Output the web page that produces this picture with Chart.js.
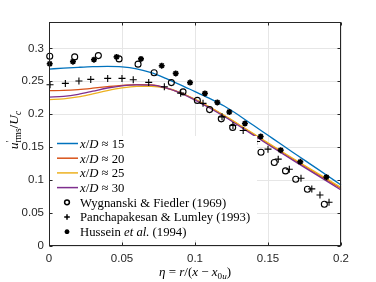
<!DOCTYPE html>
<html><head><meta charset="utf-8">
<script src="https://cdn.jsdelivr.net/npm/chart.js@4/dist/chart.umd.min.js"></script>
<style>html,body{margin:0;padding:0;background:#fff}</style>
</head><body>
<canvas id="c" width="376" height="282"></canvas>
<script>
// ---------- data ----------
const etaModel = [0,0.01,0.02,0.03,0.04,0.05,0.06,0.07,0.08,0.09,0.10,0.11,0.12,0.13,0.14,0.15,0.16,0.17,0.18,0.19,0.20];
const uRms15 = [0.2686,0.2700,0.2712,0.2722,0.2727,0.2720,0.2690,0.2632,0.2545,0.2447,0.2343,0.2240,0.2125,0.1985,0.1832,0.1680,0.1528,0.1378,0.1228,0.1078,0.0927];
const uRms20 = [0.2357,0.2362,0.2375,0.2395,0.2418,0.2438,0.2450,0.2447,0.2405,0.2327,0.2225,0.2107,0.1978,0.1840,0.1698,0.1556,0.1416,0.1278,0.1142,0.1007,0.0872];
const uRms25 = [0.2222,0.2233,0.2262,0.2310,0.2360,0.2400,0.2423,0.2425,0.2395,0.2325,0.2226,0.2110,0.1982,0.1845,0.1705,0.1565,0.1427,0.1290,0.1155,0.1022,0.0890];
const uRms30 = [0.2261,0.2272,0.2303,0.2350,0.2398,0.2432,0.2447,0.2443,0.2400,0.2320,0.2215,0.2095,0.1965,0.1825,0.1683,0.1540,0.1400,0.1262,0.1125,0.0988,0.0851];

const wygEta = [0.0005,0.0176,0.0338,0.048,0.061,0.072,0.0838,0.0918,0.1016,0.110,0.118,0.1258,0.137,0.1452,0.1543,0.162,0.169,0.177,0.1886];
const wygU   = [0.288,0.287,0.289,0.284,0.276,0.263,0.248,0.234,0.221,0.207,0.193,0.180,0.160,0.1424,0.1267,0.114,0.1014,0.0862,0.0634];

const panEta = [0.0007,0.0112,0.0205,0.0286,0.0402,0.050,0.0577,0.0683,0.079,0.0902,0.1055,0.1185,0.126,0.133,0.1422,0.150,0.157,0.1646,0.1726,0.180,0.1856,0.1918];
const panU   = [0.2448,0.2468,0.2504,0.2529,0.2544,0.2544,0.2524,0.2483,0.2418,0.232,0.2165,0.196,0.183,0.1753,0.1586,0.147,0.1318,0.1166,0.1029,0.0867,0.0775,0.0664];

const husEta = [0.0005,0.0164,0.0308,0.0463,0.063,0.0772,0.0868,0.0966,0.1068,0.1153,0.1235,0.1342,0.145,0.1587,0.1721,0.190];
const husU   = [0.2767,0.2798,0.2828,0.287,0.284,0.2737,0.262,0.248,0.2316,0.218,0.2033,0.186,0.1662,0.1455,0.1277,0.1045];

const xTicks = [0,0.05,0.1,0.15,0.2];
const xTickLabels = ['0','0.05','0.1','0.15','0.2'];
const yTicks = [0,0.05,0.1,0.15,0.2,0.25,0.3];
const yTickLabels = ['0','0.05','0.1','0.15','0.2','0.25','0.3'];

const seriesNames = ['x/D ≈ 15','x/D ≈ 20','x/D ≈ 25','x/D ≈ 30','Wygnanski & Fiedler (1969)','Panchapakesan & Lumley (1993)','Hussein et al. (1994)'];

// ---------- styling ----------
const C_BLUE='#0072BD', C_RED='#D95319', C_YEL='#EDB120', C_PUR='#7E2F8E';
const SERIF='"Liberation Serif","Times New Roman",serif';
const SANS='"Liberation Sans",Arial,sans-serif';
const AX='#262626';

const zip=(xs,ys)=>xs.map((x,i)=>({x:x,y:ys[i]}));

const lineDs=(label,ys,color,order)=>({label,data:zip(etaModel,ys),showLine:true,borderColor:color,backgroundColor:color,
  borderWidth:1.3,pointRadius:0,cubicInterpolationMode:'monotone',order,clip:false});
const markDs=(label,xs,ys,style,r,bw,order)=>({label,data:zip(xs,ys),showLine:false,pointStyle:style,pointRadius:r,
  pointBorderWidth:bw,borderColor:'#000',backgroundColor:'rgba(0,0,0,0)',order,clip:false});

// rich text helpers
function drawRich(ctx,segs,x,y,size,measureOnly){
  let cx=x;
  for(const s of segs){
    const fs=(s.sub||s.sup)?size*0.7:size;
    ctx.font=(s.it?'italic ':'')+fs.toFixed(2)+'px '+SERIF;
    const dy=s.sub?size*0.22:(s.sup?-size*0.38:0);
    if(!measureOnly) ctx.fillText(s.t,cx,y+dy);
    if(!s.stay) cx+=ctx.measureText(s.t).width;
  }
  return cx-x;
}
const legendSegs=[
  [{t:'x',it:1},{t:'/'},{t:'D',it:1},{t:' ≈ 15'}],
  [{t:'x',it:1},{t:'/'},{t:'D',it:1},{t:' ≈ 20'}],
  [{t:'x',it:1},{t:'/'},{t:'D',it:1},{t:' ≈ 25'}],
  [{t:'x',it:1},{t:'/'},{t:'D',it:1},{t:' ≈ 30'}],
  [{t:'Wygnanski & Fiedler (1969)'}],
  [{t:'Panchapakesan & Lumley (1993)'}],
  [{t:'Hussein '},{t:'et al.',it:1},{t:' (1994)'}]
];
const xTitle=[{t:'η',it:1},{t:' = '},{t:'r',it:1},{t:'/('},{t:'x',it:1},{t:' − '},{t:'x',it:1},{t:'0',sub:1},{t:'u',it:1,sub:1},{t:')'}];
const yTitle=[{t:'u',it:1},{t:'′',sup:1,stay:1},{t:'rms',sub:1},{t:'/'},{t:'U',it:1},{t:'c',it:1,sub:1}];

const decor={
  id:'decor',
  afterDatasetsDraw(chart){
    const ctx=chart.ctx, ca=chart.chartArea, xs=chart.scales.x, ys=chart.scales.y;
    ctx.save();
    ctx.strokeStyle=AX; ctx.lineWidth=1;
    const L=Math.round(ca.left)+0.5, R=Math.round(ca.right)-0.5, T=Math.round(ca.top)+0.5, B=Math.round(ca.bottom)-0.5;
    ctx.strokeRect(L,T,R-L,B-T);
    ctx.beginPath();
    const tl=3;
    for(const v of xTicks){const p=Math.round(xs.getPixelForValue(v))+0.5; ctx.moveTo(p,B);ctx.lineTo(p,B-tl);ctx.moveTo(p,T);ctx.lineTo(p,T+tl);}
    for(const v of yTicks){const p=Math.round(ys.getPixelForValue(v))+0.5; ctx.moveTo(L,p);ctx.lineTo(L+tl,p);ctx.moveTo(R,p);ctx.lineTo(R-tl,p);}
    ctx.stroke();

    // legend
    const lx=53, ly=136, lw=204, lh=104;
    ctx.fillStyle='#fff'; ctx.fillRect(lx,ly,lw,lh);
    const y0=143.5, dy=14.7;
    const dsets=chart.data.datasets;
    const legOrder=[0,1,2,3,4,5,6];
    legOrder.forEach((di,i)=>{
      const d=dsets[di]; const yy=y0+i*dy;
      if(d.showLine){
        ctx.strokeStyle=d.borderColor; ctx.lineWidth=1.5;
        ctx.beginPath(); ctx.moveTo(57,yy); ctx.lineTo(78,yy); ctx.stroke();
      } else {
        ctx.strokeStyle='#000'; ctx.fillStyle='rgba(0,0,0,0)';
        Chart.helpers.drawPoint(ctx,{pointStyle:d.pointStyle,radius:d.pointRadius*0.8,borderWidth:d.pointBorderWidth,rotation:0},67,yy);
      }
      ctx.fillStyle='#000';
      ctx.textBaseline='alphabetic'; ctx.textAlign='left';
      drawRich(ctx,legendSegs[di],80,yy+4.3,12.7);
    });

    // axis titles
    ctx.fillStyle='#000'; ctx.textAlign='left'; ctx.textBaseline='alphabetic';
    const w=drawRich(ctx,xTitle,0,0,13,true);
    drawRich(ctx,xTitle,(ca.left+ca.right)/2-w/2,276,13);
    ctx.save();
    ctx.translate(18,130); ctx.rotate(-Math.PI/2);
    const wy=drawRich(ctx,yTitle,0,0,13.5,true);
    drawRich(ctx,yTitle,-wy/2,0,13.5);
    ctx.restore();
    ctx.restore();
  }
};

new Chart(document.getElementById('c'),{
  type:'scatter',
  data:{datasets:[
    lineDs(seriesNames[0],uRms15,C_BLUE,7),
    lineDs(seriesNames[1],uRms20,C_RED,6),
    lineDs(seriesNames[2],uRms25,C_YEL,5),
    lineDs(seriesNames[3],uRms30,C_PUR,4),
    markDs(seriesNames[4],wygEta,wygU,'circle',3,1.1,3),
    markDs(seriesNames[5],panEta,panU,'cross',3.5,1.1,2),
    markDs(seriesNames[6],husEta,husU,'star',3,1.6,1)
  ]},
  options:{
    responsive:false,animation:false,events:[],
    layout:{padding:{left:0,right:35,top:22,bottom:0}},
    plugins:{legend:{display:false},tooltip:{enabled:false}},
    scales:{
      x:{type:'linear',min:0,max:0.2,
        afterBuildTicks:a=>{a.ticks=xTicks.map(v=>({value:v}));},
        afterFit:s=>{s.height=36;},
        grid:{color:'#e6e6e6',drawTicks:false},border:{display:false},
        ticks:{padding:6,color:AX,font:{family:SANS,size:11.5},callback:v=>xTickLabels[xTicks.indexOf(v)]}},
      y:{type:'linear',min:0,max:0.34,
        afterBuildTicks:a=>{a.ticks=yTicks.map(v=>({value:v}));},
        afterFit:s=>{s.width=49;},
        grid:{color:'#e6e6e6',drawTicks:false},border:{display:false},
        ticks:{padding:5,color:AX,font:{family:SANS,size:11.5},callback:v=>yTickLabels[yTicks.indexOf(v)]}}
    }
  },
  plugins:[decor]
});
</script>
</body></html>
